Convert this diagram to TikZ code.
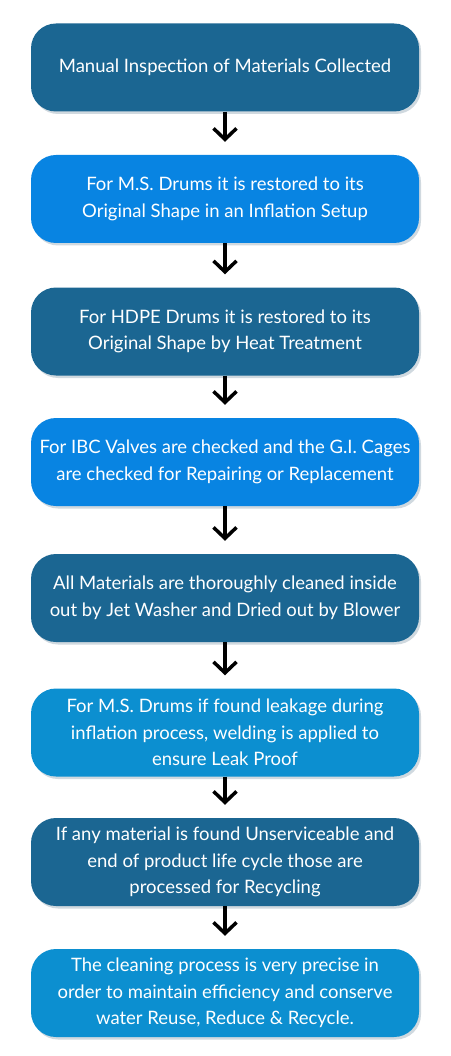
\documentclass[tikz,border=0pt]{standalone}
\usepackage{fontspec}
\setmainfont{Lato}
\usetikzlibrary{arrows.meta,shadows}
\definecolor{darkbox}{RGB}{27,102,146}
\definecolor{brightbox}{RGB}{8,132,226}
\definecolor{cyanbox}{RGB}{12,143,208}
\definecolor{shadowc}{RGB}{150,170,185}
\tikzset{
  stepbox/.style={rectangle, rounded corners=25pt, minimum width=388pt, minimum height=88pt,
    inner sep=0pt, align=center, text=white, font=\fontsize{18.5}{26.5}\selectfont,
    drop shadow={shadow xshift=2pt, shadow yshift=-2.5pt, opacity=0.45, fill=shadowc}},
  flowarrow/.style={line width=3.5pt, -{Straight Barb[length=11pt,width=23pt]}, shorten >=13pt}
}
\begin{document}
\begin{tikzpicture}[x=1pt,y=1pt]
\useasboundingbox (0,0) rectangle (450,-1056);
\node[stepbox, fill=darkbox] (b1) at (225,-67.5) {Manual Inspection of Materials Collected};
\node[stepbox, fill=brightbox] (b2) at (225,-199) {For M.S. Drums it is restored to its\\Original Shape in an Inflation Setup};
\node[stepbox, fill=darkbox] (b3) at (225,-331.5) {For HDPE Drums it is restored to its\\Original Shape by Heat Treatment};
\node[stepbox, fill=brightbox] (b4) at (225,-462) {For IBC Valves are checked and the G.I. Cages\\are checked for Repairing or Replacement};
\node[stepbox, fill=darkbox] (b5) at (225,-598) {All Materials are thoroughly cleaned inside\\out by Jet Washer and Dried out by Blower};
\node[stepbox, fill=cyanbox] (b6) at (225,-732.5) {For M.S. Drums if found leakage during\\inflation process, welding is applied to\\ensure Leak Proof};
\node[stepbox, fill=darkbox] (b7) at (225,-862) {If any material is found Unserviceable and\\end of product life cycle those are\\processed for Recycling};
\node[stepbox, fill=cyanbox] (b8) at (225,-993) {The cleaning process is very precise in\\order to maintain efficiency and conserve\\water Reuse, Reduce \& Recycle.};
\foreach \a/\b in {b1/b2,b2/b3,b3/b4,b4/b5,b5/b6,b6/b7,b7/b8}
  \draw[flowarrow] (\a.south) -- (\b.north);
\end{tikzpicture}
\end{document}
